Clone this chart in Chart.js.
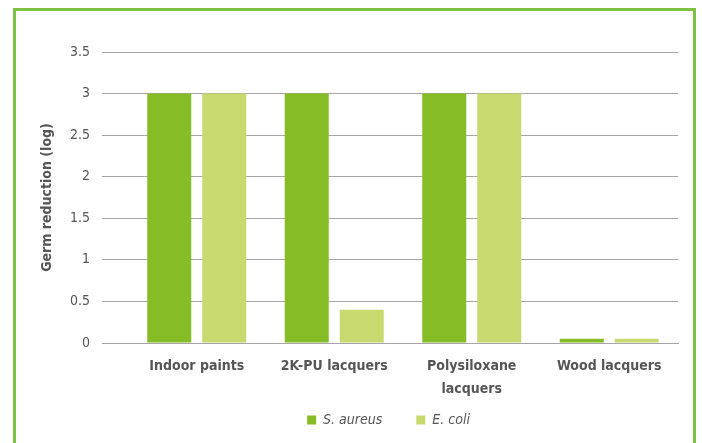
<!DOCTYPE html>
<html>
<head>
<meta charset="utf-8">
<script src="https://cdn.jsdelivr.net/npm/chart.js@4"></script>
<style>
  html, body { margin: 0; padding: 0; background: #fff; }
  #wrap { position: relative; width: 702px; height: 443px; }
  #frame { position: absolute; left: 13px; top: 8px; width: 677px; height: 450px;
           border: 3px solid #7dc242; box-sizing: content-box; pointer-events: none; }
  canvas { position: absolute; left: 0; top: 0; }
</style>
</head>
<body>
<div id="wrap">
  <canvas id="myChart" width="702" height="443"></canvas>
  <div id="frame"></div>
</div>
<script>
// chart data
const categories = ['Indoor paints', '2K-PU lacquers', ['Polysiloxane', 'lacquers'], 'Wood lacquers'];
const aureusValues = [3, 3, 3, 0.05];
const coliValues = [3, 0.4, 3, 0.05];

const fontFamily = '"Liberation Sans Narrow", "DejaVu Sans Condensed", "Roboto Condensed", sans-serif';
const textColor = '#555555';

// let the x labels run below their box, and move the legend under the plot
const tweak = {
  id: 'tweak',
  beforeDraw(chart) {
    chart.scales.x.bottom = chart.height;
    chart.legend.left += 30;
    chart.legend.right += 30;
  }
};

const ctx = document.getElementById('myChart').getContext('2d');

const myChart = new Chart(ctx, {
  type: 'bar',
  data: {
    labels: categories,
    datasets: [
      {
        label: 'S. aureus',
        data: aureusValues,
        backgroundColor: '#86bc25',
        categoryPercentage: 0.8,
        barPercentage: 0.8
      },
      {
        label: 'E. coli',
        data: coliValues,
        backgroundColor: '#c8d96f',
        categoryPercentage: 0.8,
        barPercentage: 0.8
      }
    ]
  },
  plugins: [tweak],
  options: {
    responsive: false,
    animation: false,
    layout: { padding: { left: 39, right: 24, top: 52, bottom: 6 } },
    plugins: {
      tooltip: { enabled: false },
      legend: {
        position: 'bottom',
        labels: {
          boxWidth: 9,
          boxHeight: 9,
          padding: 34,
          color: textColor,
          font: { family: fontFamily, size: 14, style: 'italic' }
        }
      }
    },
    scales: {
      x: {
        grid: { display: false, drawTicks: false },
        border: { color: '#a6a6a6', width: 1 },
        ticks: {
          color: textColor,
          padding: 11,
          maxRotation: 0,
          font: { family: fontFamily, size: 14, weight: 'bold', lineHeight: 1.7 }
        },
        afterFit: (scale) => { scale.height = 36; }
      },
      y: {
        min: 0,
        max: 3.5,
        ticks: {
          stepSize: 0.5,
          color: textColor,
          padding: 12,
          font: { family: fontFamily, size: 14 },
          callback: (v) => String(v)
        },
        grid: { color: '#a6a6a6', tickLength: 26, tickColor: '#a6a6a6' },
        border: { display: false },
        title: {
          display: true,
          text: 'Germ reduction (log)',
          color: textColor,
          padding: 0,
          font: { family: fontFamily, size: 14, weight: 'bold' }
        },
        afterFit: (scale) => { scale.width = 89; }
      }
    }
  }
});
</script>
</body>
</html>
